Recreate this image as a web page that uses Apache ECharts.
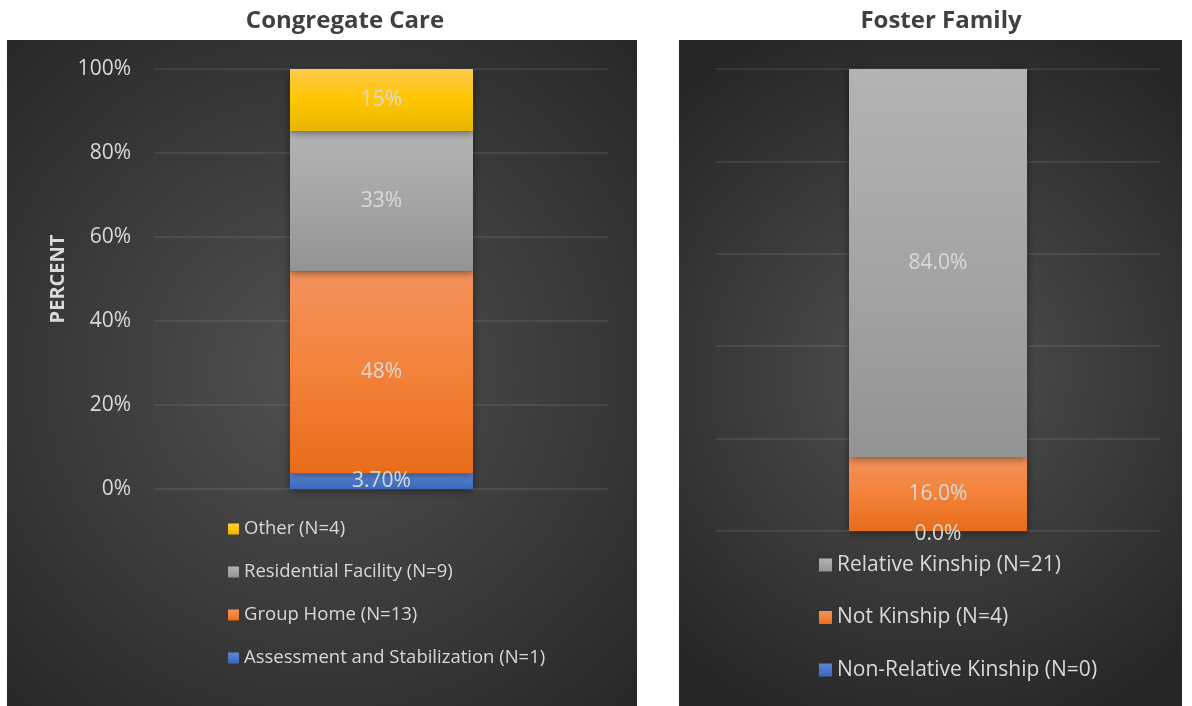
<!DOCTYPE html>
<html>
<head>
<meta charset="utf-8">
<script src="https://cdn.jsdelivr.net/npm/echarts@6/dist/echarts.min.js"></script>
<style>
  html, body { margin: 0; padding: 0; background: #fff; }
  #chart { width: 1192px; height: 706px; }
</style>
</head>
<body>
<div id="chart"></div>
<script>
// data
const leftCategory = ['Congregate Care'];
const leftNames = ['Assessment and Stabilization (N=1)', 'Group Home (N=13)', 'Residential Facility (N=9)', 'Other (N=4)'];
const leftValues = [3.70, 48.15, 33.33, 14.81];
const leftLabels = ['3.70%', '48%', '33%', '15%'];

const rightCategory = ['Foster Family'];
const rightNames = ['Non-Relative Kinship (N=0)', 'Not Kinship (N=4)', 'Relative Kinship (N=21)'];
const rightValues = [0, 16, 84];
const rightLabels = ['0.0%', '16.0%', '84.0%'];

const axisMin = 0;
const axisMax = 100;
const axisStep = 20;

function grad(c0, c1, c2) {
  return new echarts.graphic.LinearGradient(0, 0, 0, 1, [
    { offset: 0, color: c0 },
    { offset: 0.5, color: c1 },
    { offset: 1, color: c2 }
  ]);
}
const blue = () => grad('#5d88d4', '#4a78c8', '#3c66bd');
const orange = () => grad('#f3925b', '#f4823a', '#e86c1a');
const gray = () => grad('#b3b3b3', '#a5a5a5', '#939393');
const yellow = () => grad('#ffca4c', '#ffc600', '#e8b400');

const leftColors = [blue, orange, gray, yellow];
const rightColors = [blue, orange, gray];

const bgFill = {
  type: 'radial', x: 0.5, y: 0.5, r: 0.75,
  colorStops: [{ offset: 0, color: '#515151' }, { offset: 1, color: '#262626' }]
};

const labelText = '#d9d9d9';
const font = 'Open Sans';

const series = [];
leftNames.forEach((name, i) => {
  series.push({
    name: name, type: 'bar', stack: 'left', xAxisIndex: 0, yAxisIndex: 0,
    barWidth: 183, data: [leftValues[i]],
    itemStyle: { color: leftColors[i](), shadowBlur: 8, shadowColor: 'rgba(0,0,0,0.45)', shadowOffsetY: 2 },
    label: { show: true, position: 'inside', color: labelText, fontFamily: font, fontSize: 21, formatter: () => leftLabels[i] }
  });
});
rightNames.forEach((name, i) => {
  series.push({
    name: name, type: 'bar', stack: 'right', xAxisIndex: 1, yAxisIndex: 1,
    barWidth: 178, data: [rightValues[i]],
    itemStyle: { color: rightColors[i](), shadowBlur: 8, shadowColor: 'rgba(0,0,0,0.45)', shadowOffsetY: 2 },
    label: { show: true, position: 'inside', color: labelText, fontFamily: font, fontSize: 21,
      offset: rightValues[i] === 0 ? [0, 3] : [0, 0], formatter: () => rightLabels[i] }
  });
});

const splitLine = { show: true, lineStyle: { color: 'rgba(255,255,255,0.11)', width: 1.5 } };

const option = {
  animation: false,
  textStyle: { fontFamily: font },
  graphic: [
    { type: 'rect', z: -10, shape: { x: 7, y: 40, width: 630, height: 666 }, style: { fill: bgFill } },
    { type: 'rect', z: -10, shape: { x: 679, y: 40, width: 503, height: 666 }, style: { fill: bgFill } }
  ],
  title: [
    { text: 'Congregate Care', left: 340, top: 4, textAlign: 'center',
      textStyle: { color: '#404040', fontSize: 24, fontWeight: 'bold', fontFamily: font } },
    { text: 'Foster Family', left: 936, top: 4, textAlign: 'center',
      textStyle: { color: '#404040', fontSize: 24, fontWeight: 'bold', fontFamily: font } }
  ],
  legend: [
    { data: leftNames.slice().reverse(), orient: 'vertical', left: 223, top: 513,
      icon: 'rect', itemWidth: 11, itemHeight: 11, itemGap: 21,
      textStyle: { color: labelText, fontSize: 18.5, lineHeight: 22, fontFamily: font } },
    { data: rightNames.slice().reverse(), orient: 'vertical', left: 814, top: 547,
      icon: 'rect', itemWidth: 13, itemHeight: 13, itemGap: 26.5,
      textStyle: { color: labelText, fontSize: 21, lineHeight: 26, fontFamily: font } }
  ],
  grid: [
    { left: 155, top: 69, width: 453, height: 420 },
    { left: 716, top: 69, width: 444, height: 462 }
  ],
  xAxis: [
    { type: 'category', gridIndex: 0, data: leftCategory, show: false },
    { type: 'category', gridIndex: 1, data: rightCategory, show: false }
  ],
  yAxis: [
    { type: 'value', gridIndex: 0, min: axisMin, max: axisMax, interval: axisStep,
      name: 'PERCENT', nameLocation: 'middle', nameRotate: 90, nameGap: 87,
      nameTextStyle: { color: labelText, fontSize: 20, fontWeight: 'bold', fontFamily: font },
      axisLine: { show: false }, axisTick: { show: false },
      axisLabel: { color: labelText, fontSize: 21, margin: 24, formatter: '{value}%', fontFamily: font },
      splitLine: splitLine },
    { type: 'value', gridIndex: 1, min: axisMin, max: axisMax, interval: axisStep,
      axisLine: { show: false }, axisTick: { show: false }, axisLabel: { show: false },
      splitLine: splitLine }
  ],
  series: series
};

const chart = echarts.init(document.getElementById('chart'));
chart.setOption(option);
</script>
</body>
</html>
